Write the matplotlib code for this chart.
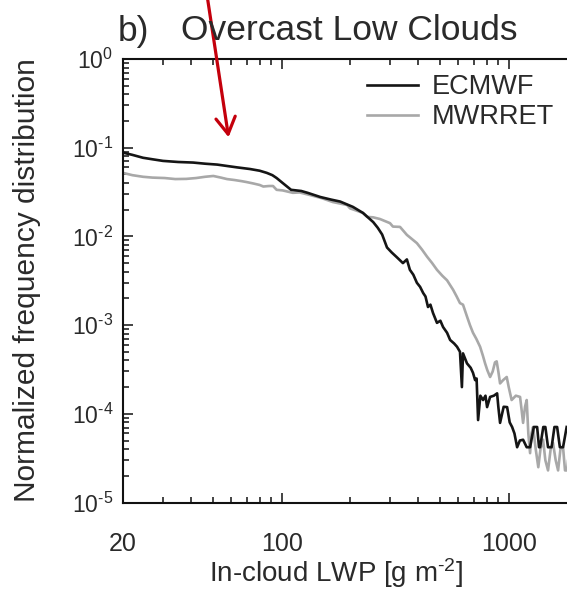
import matplotlib
matplotlib.use("Agg")
import matplotlib.pyplot as plt
from matplotlib.patches import FancyArrowPatch

plt.rcParams['font.family'] = ['Liberation Sans', 'DejaVu Sans']
plt.rcParams['mathtext.fontset'] = 'custom'
plt.rcParams['mathtext.rm'] = 'Liberation Sans'
plt.rcParams['mathtext.it'] = 'Liberation Sans:italic'
plt.rcParams['mathtext.bf'] = 'Liberation Sans:bold'

TXT = '#2a2a2a'

# ECMWF in-cloud LWP distribution (overcast low clouds)
lwp_ec = [20, 22, 24.5, 27, 30, 35, 40.7, 46, 52, 58, 63.6, 72.5, 80, 86, 91, 95,
          101, 110, 122, 130, 148, 165, 181, 206, 228, 253, 265, 277, 291, 305,
          322, 342, 356, 367, 380, 394, 407, 420, 430, 441, 452, 464, 483, 500,
          514, 535, 552, 575, 592, 610, 622, 629, 655, 680, 696, 711, 722, 733,
          750, 771, 790, 803, 828, 860, 889, 900, 916, 950, 984, 1010, 1035, 1060,
          1089, 1120, 1157, 1200, 1242, 1290, 1334, 1360, 1375, 1420, 1450, 1490,
          1545, 1590, 1634, 1680, 1735, 1800]
freq_ec = [0.088, 0.083, 0.077, 0.074, 0.071, 0.069, 0.068, 0.066, 0.0645, 0.062,
           0.060, 0.0575, 0.055, 0.052, 0.049, 0.0455, 0.040, 0.0335, 0.0325, 0.031,
           0.0278, 0.026, 0.0247, 0.0215, 0.0184, 0.0145, 0.0125, 0.0105, 0.0075,
           0.0066, 0.0058, 0.0050, 0.0055, 0.0042, 0.0037, 0.0030, 0.0027, 0.0023,
           0.0021, 0.0016, 0.0017, 0.00137, 0.00106, 0.00112, 0.00095, 0.00082,
           0.00068, 0.00062, 0.00057, 0.00050, 0.00020, 0.00048, 0.00037, 0.00033,
           0.00029, 0.00024, 0.00025, 8.5e-5, 1.6e-4, 1.43e-4, 1.6e-4, 1.19e-4,
           1.55e-4, 1.6e-4, 1.7e-4, 1.2e-4, 7.9e-5, 1.2e-4, 1.19e-4, 8e-5, 7.1e-5,
           6e-5, 4.2e-5, 5e-5, 5.1e-5, 4.2e-5, 4.2e-5, 7.1e-5, 7.1e-5, 4.2e-5,
           4.2e-5, 7.1e-5, 7.1e-5, 4.2e-5, 4.2e-5, 7.1e-5, 7.1e-5, 4.2e-5, 4.2e-5,
           7.1e-5]

# MWRRET retrievals
lwp_mw = [20, 22, 24.5, 27, 30.5, 34, 38, 42, 46, 50, 54, 57.4, 62, 66.5, 70, 75,
          80, 83, 88, 91.6, 95, 101, 112, 120, 133, 150, 168, 194, 200, 228, 238,
          253, 271, 300, 309, 332, 356, 394, 415, 437, 460, 483, 510, 535, 569,
          590, 610, 629, 655, 675, 696, 720, 748, 770, 787, 805, 828, 850, 870,
          885, 900, 916, 945, 980, 1000, 1030, 1075, 1122, 1140, 1157, 1180, 1200,
          1220, 1242, 1260, 1280, 1315, 1350, 1380, 1417, 1450, 1490, 1530, 1567,
          1610, 1650, 1690, 1735, 1770, 1807, 1850]
freq_mw = [0.052, 0.049, 0.047, 0.046, 0.0455, 0.0443, 0.0445, 0.0455, 0.047,
           0.048, 0.046, 0.0443, 0.0432, 0.042, 0.041, 0.0395, 0.038, 0.0365,
           0.037, 0.037, 0.0335, 0.033, 0.031, 0.0313, 0.0293, 0.027, 0.0244,
           0.0226, 0.0207, 0.0184, 0.0166, 0.0164, 0.0157, 0.0141, 0.0129, 0.0128,
           0.0104, 0.0084, 0.0071, 0.0059, 0.0050, 0.0042, 0.0036, 0.0032, 0.0025,
           0.0021, 0.00177, 0.00170, 0.00125, 0.00100, 0.00082, 0.00070, 0.00057,
           0.00045, 0.00037, 0.00031, 0.00026, 0.00030, 0.00038, 0.00039, 0.00030,
           0.00022, 0.00024, 0.00026, 0.00020, 1.43e-4, 1.6e-4, 1.55e-4, 1.1e-4,
           7.9e-5, 1.2e-4, 1.43e-4, 6e-5, 3.6e-5, 6e-5, 7.1e-5, 4e-5, 2.5e-5,
           4e-5, 5.1e-5, 3e-5, 2.3e-5, 4e-5, 4.7e-5, 3e-5, 2.3e-5, 4e-5, 4.2e-5,
           2.3e-5, 2.3e-5, 4.2e-5]

xticks = [20, 100, 1000]
xticklabels = ['20', '100', '1000']
yticks = [1e-5, 1e-4, 1e-3, 1e-2, 1e-1, 1e0]
# exponents written with a plain hyphen rather than a long minus
yticklabels = ['$10^{\u2010' + '5}$', '$10^{\u2010' + '4}$', '$10^{\u2010' + '3}$',
               '$10^{\u2010' + '2}$', '$10^{\u2010' + '1}$', '$10^{0}$']

W, H = 567, 603
fig = plt.figure(figsize=(W / 100, H / 100), dpi=100)
ax = fig.add_axes([123 / W, 1 - 502.5 / H, (572 - 123) / W, (502.5 - 59) / H])

l_mw, = ax.plot(lwp_mw, freq_mw, color='#a8a8a8', lw=1.9, label='MWRRET')
l_ec, = ax.plot(lwp_ec, freq_ec, color='#151515', lw=1.9, label='ECMWF')

ax.set_xscale('log')
ax.set_yscale('log')
ax.set_xlim(20, 1900)
ax.set_ylim(1e-5, 1)
ax.set_xticks(xticks)
ax.set_xticklabels(xticklabels)
ax.set_yticks(yticks)
ax.set_yticklabels(yticklabels)

for s in ax.spines.values():
    s.set_linewidth(1.5)
    s.set_color('#111111')
ax.spines['right'].set_visible(False)

ax.tick_params(which='both', direction='in', top=True, right=False,
               colors='#111111', width=1.1, labelcolor=TXT)
ax.tick_params(which='major', length=7)
ax.tick_params(which='minor', length=4)
ax.tick_params(axis='x', which='major', labelsize=18, pad=21)
ax.tick_params(axis='y', which='major', labelsize=16.5, pad=7)

leg = ax.legend([l_ec, l_mw], ['ECMWF', 'MWRRET'], loc='upper left',
                bbox_to_anchor=(367 / W, 1 - 74 / H), bbox_transform=fig.transFigure,
                frameon=False, fontsize=19.5, handlelength=1.9, handletextpad=0.5,
                borderpad=0, borderaxespad=0, labelspacing=0.15)
for t in leg.get_texts():
    t.set_color(TXT)

fig.text(118 / W, 1 - 40.5 / H, 'b)', fontsize=25.5, color=TXT, va='baseline')
fig.text(181 / W, 1 - 40.5 / H, 'Overcast Low Clouds', fontsize=25.5, color=TXT,
         va='baseline')
fig.text(27 / W, 1 - 280 / H, 'Normalized frequency distribution', fontsize=21.5,
         color=TXT, rotation=90, ha='center', va='center')
fig.text(336 / W, 1 - 582 / H, 'In-cloud LWP [g m$^{\u2010' + '2}$]', fontsize=20,
         color=TXT, ha='center', va='baseline')

# red pointer arrow
arr = FancyArrowPatch((207 / W, 1 + 5 / H), (229 / W, 1 - 140 / H),
                      transform=fig.transFigure, arrowstyle='->,head_length=12,head_width=7',
                      color='#c4000c', lw=2.3, mutation_scale=1)
fig.patches.append(arr)

fig.savefig('out.png', dpi=100)
